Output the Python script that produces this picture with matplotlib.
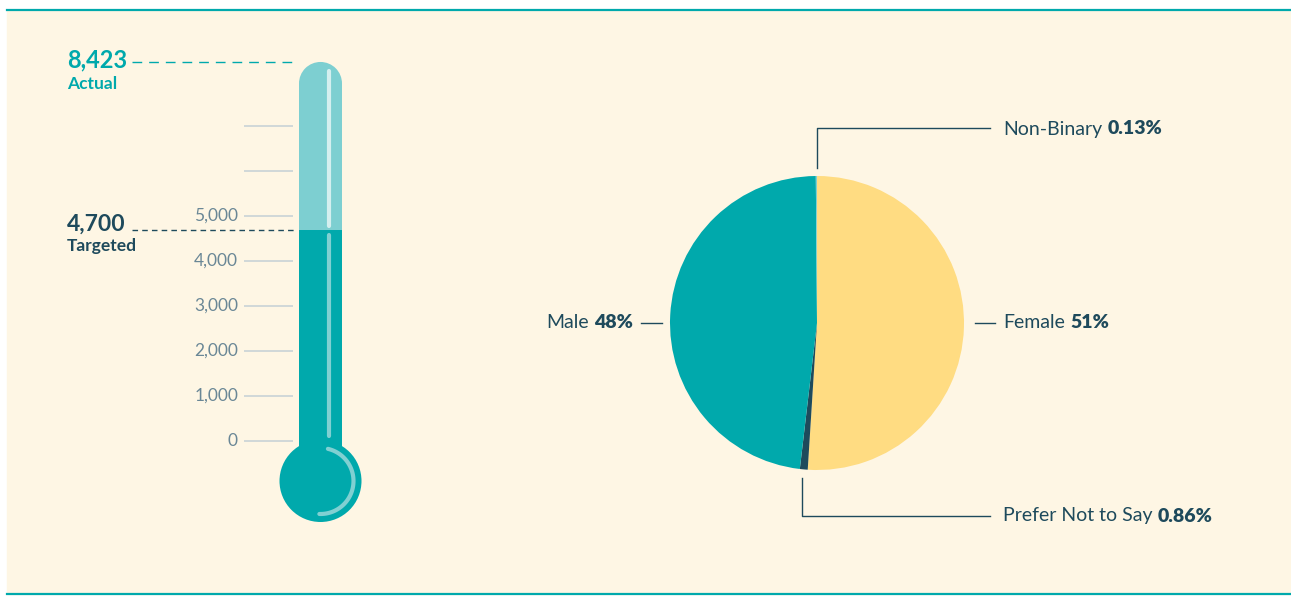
import numpy as np
import matplotlib.pyplot as plt
from matplotlib.lines import Line2D
from matplotlib.patches import Rectangle, Ellipse

# thermometer
actual = 8423
target = 4700
tick_values = [0, 1000, 2000, 3000, 4000, 5000, 6000, 7000]
tick_labels = ["0", "1,000", "2,000", "3,000", "4,000", "5,000", "", ""]

# gender split (clockwise from the top)
genders = ["Female", "Prefer Not to Say", "Male", "Non-Binary"]
shares = [51, 0.86, 48, 0.13]
share_labels = ["51%", "0.86%", "48%", "0.13%"]

TEAL = "#00A9AC"
LIGHT_TEAL = "#7DCFD1"
YELLOW = "#FFDC82"
DARK = "#1E4A5C"
CREAM = "#FEF6E4"
TICK = "#6A8796"
GRID = "#C8D3D6"

plt.rcParams["font.family"] = ["Lato", "DejaVu Sans"]

W, H = 1291, 596
fig = plt.figure(figsize=(W / 100, H / 100), dpi=100, facecolor="white")


def fx(px):
    return px / W


def fy(py):
    return 1 - py / H


# background panel with teal rules
fig.add_artist(Rectangle((fx(7), fy(594)), 1 - fx(7), fy(10) - fy(594),
                         transform=fig.transFigure, color=CREAM, zorder=0))
for yy in (10, 594):
    fig.add_artist(Line2D([fx(7), 1], [fy(yy), fy(yy)], transform=fig.transFigure,
                          color=TEAL, lw=1.6, zorder=1))

# ---- thermometer ----
ax = fig.add_axes([fx(40), fy(531), fx(420) - fx(40), fy(36) - fy(531)])
ax.set_xlim(40, 420)
ax.set_ylim(-2000, 9000)
ax.axis("off")
k = 1000 / 45  # value units per pixel

tube_x, tube_w = 299, 43
cx = tube_x + tube_w / 2
cap = tube_w / 2 * k
bulb_y = -40 * k
bulb_r = 41

ax.add_patch(Rectangle((tube_x, bulb_y), tube_w, target - bulb_y, color=TEAL, lw=0))
ax.add_patch(Rectangle((tube_x, target), tube_w, actual - cap - target, color=LIGHT_TEAL, lw=0))
ax.add_patch(Ellipse((cx, actual - cap), tube_w, tube_w * k, color=LIGHT_TEAL, lw=0))
ax.add_patch(Ellipse((cx, bulb_y), 2 * bulb_r, 2 * bulb_r * k, color=TEAL, lw=0))

# glass highlights
ax.plot([cx + 8.5, cx + 8.5], [target + 4 * k, actual - 9 * k], color="#D4EFEF",
        lw=3, solid_capstyle="round")
ax.plot([cx + 8.5, cx + 8.5], [5 * k, target - 5 * k], color="#80D0D2",
        lw=3, solid_capstyle="round")
t = np.deg2rad(np.linspace(-92, 77, 60))
ax.plot(cx + 33 * np.cos(t), bulb_y + 33 * k * np.sin(t), color="#80D0D2",
        lw=3, solid_capstyle="round")

# scale
ax.hlines(tick_values, 244, 293, color=GRID, lw=1.2)
for v, lab in zip(tick_values, tick_labels):
    ax.text(238, v, lab, ha="right", va="center", fontsize=12.5, color=TICK)

# actual / target markers
ax.hlines(actual, 132, 295, color=TEAL, lw=1, linestyles=(0, (7, 5)))
ax.annotate("8,423", (67, actual), xytext=(0, 1.5), textcoords="offset points",
            ha="left", va="center", fontsize=17, weight="bold", color=TEAL)
ax.annotate("Actual", (67, actual), xytext=(0, -16), textcoords="offset points",
            ha="left", va="center", fontsize=12.5, weight="bold", color=TEAL)

ax.hlines(target, 132, 297, color=DARK, lw=1, linestyles=(0, (4, 3)))
ax.annotate("4,700", (67, target), xytext=(0, 3.5), textcoords="offset points",
            ha="left", va="center", fontsize=16.5, weight="bold", color=DARK)
ax.annotate("Targeted", (67, target), xytext=(0, -12), textcoords="offset points",
            ha="left", va="center", fontsize=12.5, weight="bold", color=DARK)

# ---- pie ----
R = 147
pcx, pcy = 817, 323
ax2 = fig.add_axes([fx(500), fy(580), fx(1291) - fx(500), fy(30) - fy(580)])
ax2.pie(shares, colors=[YELLOW, DARK, TEAL, LIGHT_TEAL], startangle=90,
        counterclock=False, wedgeprops=dict(linewidth=0))
ax2.set_aspect("auto")
ax2.set_xlim((500 - pcx) / R, (1291 - pcx) / R)
ax2.set_ylim((pcy - 580) / R, (pcy - 30) / R)
ax2.axis("off")


def px(x):
    return (x - pcx) / R


def py(y):
    return (pcy - y) / R


def label(x, y, name, value, side="left"):
    kw = dict(fontsize=14, color=DARK)
    if side == "left":
        t = ax2.text(x, y, name, ha="left", va="center", **kw)
        ax2.annotate(value, xy=(1, 0), xycoords=t, xytext=(4, 0), textcoords="offset points",
                     ha="left", va="bottom", weight="heavy", **kw)
    else:
        t = ax2.text(x, y, value, ha="right", va="center", weight="heavy", **kw)
        ax2.annotate(name, xy=(0, 0), xycoords=t, xytext=(-4, 0), textcoords="offset points",
                     ha="right", va="bottom", **kw)


lk = dict(color=DARK, lw=1)
# Female / Male
ax2.plot([px(975), px(995)], [0, 0], **lk)
label(px(1003), 0, genders[0], share_labels[0])
ax2.plot([px(641), px(662)], [0, 0], **lk)
label(px(633), 0, genders[2], share_labels[2], side="right")

# Non-Binary, leader from top of pie
ax2.plot([0, 0, px(990)], [py(168), py(128), py(128)], **lk)
label(px(1003), py(129), genders[3], share_labels[3])

# Prefer Not to Say, leader from the thin slice
ax2.plot([px(802), px(802), px(990)], [py(478), py(516), py(516)], **lk)
label(px(1003), py(516), genders[1], share_labels[1])

fig.savefig("out.png", dpi=100, facecolor="white")
